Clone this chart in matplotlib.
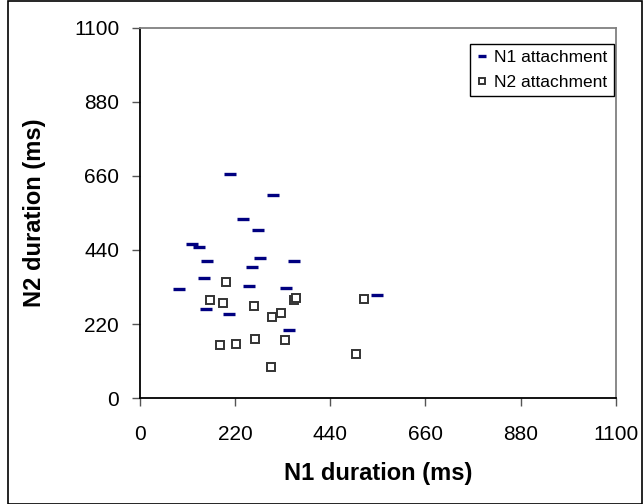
import matplotlib
matplotlib.use("Agg")
import matplotlib.pyplot as plt
from matplotlib.patches import Rectangle

plt.rcParams['font.family'] = ['Liberation Sans', 'DejaVu Sans']

# N1 attachment (dashes)
n1_x = [209, 308, 239, 273, 121, 137, 155, 277, 357, 258, 148, 251, 338, 91, 548, 152, 205, 345]
n1_y = [664, 604, 531, 499, 457, 448, 406, 416, 406, 389, 356, 333, 328, 323, 306, 264, 250, 203]

# N2 attachment (open squares)
n2_x = [199, 161, 192, 264, 357, 360, 519, 325, 305, 184, 221, 267, 335, 499, 302]
n2_y = [346, 292, 282, 273, 293, 297, 295, 254, 240, 158, 162, 176, 172, 131, 94]

ticks = [0, 220, 440, 660, 880, 1100]

fig = plt.figure(figsize=(6.43, 5.04), dpi=100)
ax = fig.add_axes([140 / 643, (504 - 398.3) / 504, 475.7 / 643, 370.8 / 504])

ax.plot(n1_x, n1_y, linestyle='none', marker='_', markersize=8, markeredgewidth=2.4,
        color='#000080', label='N1 attachment', clip_on=False)
ax.plot(n2_x, n2_y, linestyle='none', marker='s', markersize=5.6, markeredgewidth=1.4,
        markerfacecolor='white', markeredgecolor='#333333', label='N2 attachment', clip_on=False)

ax.set_xlim(0, 1100)
ax.set_ylim(0, 1100)
ax.set_xticks(ticks)
ax.set_yticks(ticks)
ax.tick_params(direction='out', length=6, width=1, labelsize=15, color='#555555')
ax.tick_params(axis='x', pad=13)
ax.tick_params(axis='y', pad=9)

for side in ['left', 'bottom']:
    ax.spines[side].set_color('black')
    ax.spines[side].set_linewidth(1.3)
for side in ['top', 'right']:
    ax.spines[side].set_color('#808080')
    ax.spines[side].set_linewidth(1.3)

ax.set_xlabel('N1 duration (ms)', fontsize=17, fontweight='bold', labelpad=13)
ax.set_ylabel('N2 duration (ms)', fontsize=17, fontweight='bold', labelpad=20)

leg = ax.legend(loc='upper right', bbox_to_anchor=(0.996, 0.955), borderaxespad=0,
                fancybox=False, framealpha=1, edgecolor='black', fontsize=12.5,
                handlelength=0.7, handletextpad=0.35, borderpad=0.35, labelspacing=0.55,
                markerscale=0.8)
leg.get_frame().set_linewidth(1)

fig.patches.append(Rectangle((7.5 / 643, 0.5 / 504), 634 / 643, 503 / 504,
                             transform=fig.transFigure, fill=False,
                             edgecolor='black', linewidth=1.2))

fig.savefig('out.png', dpi=100)
